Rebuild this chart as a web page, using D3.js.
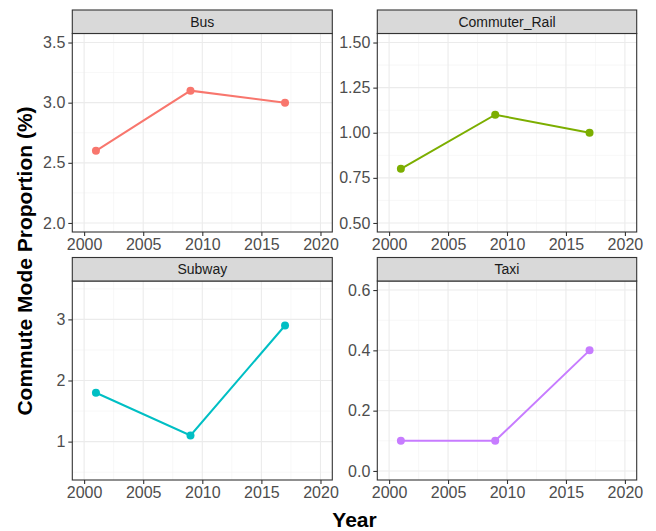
<!DOCTYPE html>
<html><head><meta charset="utf-8">
<script src="https://cdn.jsdelivr.net/npm/d3@7"></script>
<style>body{margin:0;background:#fff}svg{display:block}text{font-family:"Liberation Sans",Arial,sans-serif}</style>
</head><body><div id="chart"></div>
<script>
const modes = ["Bus", "Commuter_Rail", "Subway", "Taxi"];
const years = [2001, 2009, 2017];
const busValues = [2.6, 3.1, 3.0];
const commuterRailValues = [0.8, 1.1, 1.0];
const subwayValues = [1.8, 1.1, 2.9];
const taxiValues = [0.1, 0.1, 0.4];
const colors = ["#F8766D", "#7CAE00", "#00BFC4", "#C77CFF"];
const xTicks = [2000, 2005, 2010, 2015, 2020];
const xLimits = [2000, 2020];
const yLimits = [[2, 3.5], [0.5, 1.5], [0.52, 3.48], [0, 0.6]];
const yTicks = [[2, 2.5, 3, 3.5], [0.5, 0.75, 1, 1.25, 1.5], [1, 2, 3], [0, 0.2, 0.4, 0.6]];
const yTickLabels = [["2.0","2.5","3.0","3.5"], ["0.50","0.75","1.00","1.25","1.50"], ["1","2","3"], ["0.0","0.2","0.4","0.6"]];
const yMinor = [[2.25, 2.75, 3.25], [0.625, 0.875, 1.125, 1.375], [0.5, 1.5, 2.5, 3.5], [0.1, 0.3, 0.5]];
const xMinor = [2002.5, 2007.5, 2012.5, 2017.5];
const seriesValues = [busValues, commuterRailValues, subwayValues, taxiValues];
const xTitle = "Year";
const yTitle = "Commute Mode Proportion (%)";

const W = 656, H = 531;
const svg = d3.select("#chart").append("svg").attr("width", W).attr("height", H);

const cols = [[72.3, 332.3], [377.3, 636.7]];
const rows = [{strip: 10, top: 33.5, bottom: 232}, {strip: 257.5, top: 281, bottom: 480}];

function expand(l) { const d = (l[1] - l[0]) * 0.05; return [l[0] - d, l[1] + d]; }

modes.forEach((m, i) => {
  const c = cols[i % 2], r = rows[Math.floor(i / 2)];
  const x = d3.scaleLinear().domain(expand(xLimits)).range(c);
  const y = d3.scaleLinear().domain(expand(yLimits[i])).range([r.bottom, r.top]);
  const g = svg.append("g");
  // panel bg
  g.append("rect").attr("x", c[0]).attr("y", r.top).attr("width", c[1]-c[0]).attr("height", r.bottom-r.top).attr("fill", "#fff");
  // minor grid
  g.selectAll(".xm").data(xMinor).join("line").attr("x1", d=>x(d)).attr("x2", d=>x(d)).attr("y1", r.top).attr("y2", r.bottom).attr("stroke", "#F2F2F2").attr("stroke-width", 0.6);
  g.selectAll(".ym").data(yMinor[i]).join("line").attr("y1", d=>y(d)).attr("y2", d=>y(d)).attr("x1", c[0]).attr("x2", c[1]).attr("stroke", "#F2F2F2").attr("stroke-width", 0.6);
  // major grid
  g.selectAll(".xg").data(xTicks).join("line").attr("x1", d=>x(d)).attr("x2", d=>x(d)).attr("y1", r.top).attr("y2", r.bottom).attr("stroke", "#EBEBEB").attr("stroke-width", 1.1);
  g.selectAll(".yg").data(yTicks[i]).join("line").attr("y1", d=>y(d)).attr("y2", d=>y(d)).attr("x1", c[0]).attr("x2", c[1]).attr("stroke", "#EBEBEB").attr("stroke-width", 1.1);
  // data
  const pts = years.map((yr, k) => [yr, seriesValues[i][k]]);
  g.append("path").datum(pts).attr("d", d3.line().x(d=>x(d[0])).y(d=>y(d[1]))).attr("fill", "none").attr("stroke", colors[i]).attr("stroke-width", 2);
  g.selectAll(".pt").data(pts).join("circle").attr("cx", d=>x(d[0])).attr("cy", d=>y(d[1])).attr("r", 4).attr("fill", colors[i]);
  // border
  g.append("rect").attr("x", c[0]).attr("y", r.top).attr("width", c[1]-c[0]).attr("height", r.bottom-r.top).attr("fill", "none").attr("stroke", "#333333").attr("stroke-width", 1.1);
  // strip
  g.append("rect").attr("x", c[0]).attr("y", r.strip).attr("width", c[1]-c[0]).attr("height", r.top-r.strip).attr("fill", "#D9D9D9").attr("stroke", "#333333").attr("stroke-width", 1.1);
  g.append("text").attr("x", (c[0]+c[1])/2).attr("y", (r.strip+r.top)/2).attr("dy", "0.35em").attr("text-anchor", "middle").attr("font-size", 14).attr("fill", "#1A1A1A").text(m);
  // axes
  const xa = d3.axisBottom(x).tickValues(xTicks).tickFormat(d3.format("d")).tickSize(4).tickPadding(3);
  const xg = g.append("g").attr("transform", `translate(0,${r.bottom})`).call(xa);
  const ya = d3.axisLeft(y).tickValues(yTicks[i]).tickFormat((d, k) => yTickLabels[i][k]).tickSize(4).tickPadding(3);
  const yg = g.append("g").attr("transform", `translate(${c[0]},0)`).call(ya);
  [xg, yg].forEach(a => {
    a.select(".domain").remove();
    a.selectAll(".tick line").attr("stroke", "#333333").attr("stroke-width", 1.1);
    a.selectAll(".tick text").attr("fill", "#4D4D4D").attr("font-size", 16).attr("font-family", "Liberation Sans, Arial, sans-serif");
  });
});

svg.append("text").attr("x", 354.5).attr("y", 526.5).attr("text-anchor", "middle").attr("font-size", 21).attr("font-weight", "bold").attr("fill", "#000").text(xTitle);
svg.append("text").attr("transform", "translate(32,261) rotate(-90)").attr("text-anchor", "middle").attr("font-size", 21).attr("font-weight", "bold").attr("fill", "#000").text(yTitle);
</script></body></html>
